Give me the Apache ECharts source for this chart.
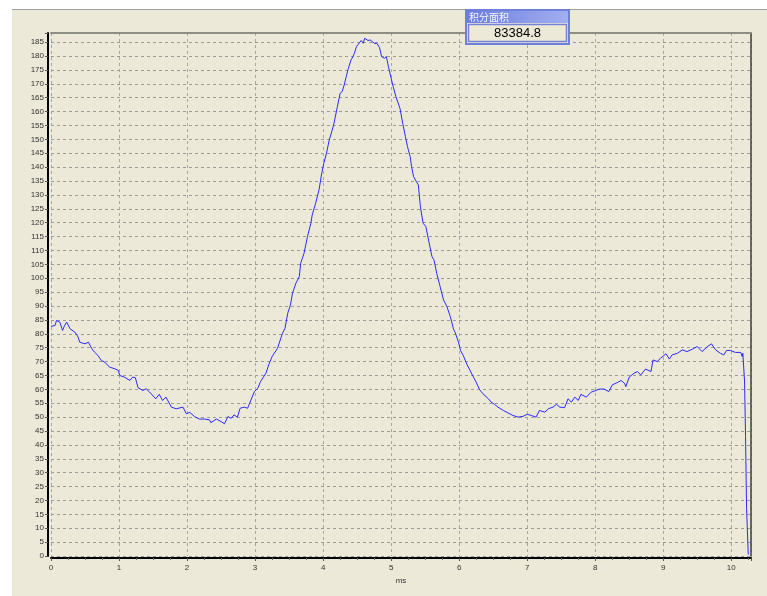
<!DOCTYPE html>
<html>
<head>
<meta charset="utf-8">
<script src="https://cdn.jsdelivr.net/npm/echarts@6/dist/echarts.min.js"></script>
<style>
html,body{margin:0;padding:0;background:#fff;}
#chart{width:767px;height:596px;}
</style>
</head>
<body>
<div id="chart"></div>
<script>
// ---- data ----
const timeMs = [
0,0.06,0.08,0.1,0.13,0.17,0.2,0.23,0.28,0.35,0.4,0.42,0.5,0.55,0.6,0.64,0.69,0.74,0.79,0.86,
0.94,0.99,1.01,1.08,1.16,1.2,1.24,1.28,1.35,1.4,1.45,1.54,1.59,1.64,1.69,1.77,1.84,1.94,1.99,2.04,
2.11,2.18,2.26,2.33,2.35,2.43,2.5,2.55,2.6,2.65,2.69,2.74,2.78,2.84,2.89,2.94,2.99,3.04,3.08,3.16,
3.2,3.25,3.33,3.4,3.44,3.48,3.52,3.55,3.6,3.65,3.67,3.72,3.77,3.82,3.84,3.89,3.94,3.98,4.01,4.05,
4.09,4.13,4.16,4.21,4.25,4.28,4.31,4.34,4.37,4.41,4.44,4.46,4.49,4.51,4.56,4.59,4.61,4.63,4.66,4.69,
4.71,4.76,4.79,4.83,4.86,4.9,4.93,4.96,5.0,5.03,5.07,5.13,5.17,5.21,5.24,5.28,5.3,5.33,5.37,5.4,
5.43,5.47,5.51,5.55,5.6,5.63,5.67,5.72,5.77,5.82,5.87,5.92,5.94,5.99,6.02,6.06,6.11,6.16,6.21,6.25,
6.3,6.35,6.43,6.47,6.52,6.57,6.65,6.72,6.79,6.87,6.94,7.0,7.06,7.13,7.18,7.26,7.31,7.38,7.43,7.48,
7.55,7.6,7.65,7.7,7.75,7.79,7.87,7.94,8.01,8.06,8.13,8.2,8.25,8.33,8.38,8.43,8.45,8.5,8.57,8.62,
8.67,8.74,8.82,8.85,8.91,8.96,9.04,9.09,9.13,9.21,9.28,9.35,9.43,9.5,9.57,9.65,9.71,9.77,9.84,9.89,
9.93,9.99,10.06,10.14,10.16,10.17,10.19,10.195,10.21,10.225,10.25
];
const signal = [
82.7,83,84.8,85.2,84.2,81.2,83,84.2,81.8,80.6,78.8,77,76.4,77,74.6,73.4,72.2,70.4,69.8,68,
67.4,66.8,65,64.4,63.2,64.4,64.2,60.6,59.6,60.2,59,56.6,58.2,56,57.2,53.6,53,53.6,51.2,51.7,
50.2,49.3,49.3,49,48,49.3,48.4,47.6,50.2,49.6,50.8,50,53.2,53.6,53.2,56.2,59.2,60.4,62.8,65.8,
68.8,71.8,74.8,80,82,87.4,90.4,94.6,98.2,100.6,105.4,109,115,119.8,122.8,127,131.8,137.8,141.4,145,
149.8,153,155.8,161.8,166.6,167.2,169.6,172.6,175.5,178.6,179.8,181,183.4,184,185.6,184.6,186.4,186.4,185.6,185.8,
185.6,184.5,184.6,183,179.8,179.2,179.8,176.2,172,169,165.4,161.2,155.8,151,147.4,143.8,140.2,136.6,134.8,133.6,
125.8,119.8,118.6,113.8,107.8,106.6,101.8,97,92.2,89.8,86.2,81.4,80.6,77,74,72.2,69.2,66.8,64.4,62.6,
59.9,58.4,56.6,55.4,54.6,53.6,52.4,51.5,50.6,50,50.3,51,50.6,50,52.4,51.8,53,53.6,54.6,53.6,
53.4,56.6,55.4,57.2,56,58.2,57.2,59,59.6,60.1,60.1,59.2,61.6,62.5,63.2,62.2,61,64.4,65.8,66.4,
65.2,67.3,66.4,70.6,70,71.2,72.8,70.9,72.4,73,74.2,73.6,74.5,75.4,73.6,75.4,76.4,74.2,73,72.4,
74,74,73.3,73.3,71.8,73,73,63,43,17,0.5
];
const xRange = [0, 10.29];
const yRange = [0, 188.3];
const xStep = 1;
const yStep = 5;
const xName = 'ms';
const boxTitle = '积分面积';
const boxValue = '83384.8';

const chart = echarts.init(document.getElementById('chart'), null, {renderer: 'canvas'});
const pts = timeMs.map((t, i) => [t, signal[i]]);
const labelFont = 'Liberation Sans';

const option = {
  backgroundColor: '#ffffff',
  animation: false,
  grid: {left: 51, right: 16, top: 33, bottom: 40, containLabel: false},
  xAxis: [{
    type: 'value', min: xRange[0], max: xRange[1], interval: xStep,
    offset: 2,
    name: xName, nameLocation: 'middle', nameGap: 19,
    nameTextStyle: {fontSize: 8, color: '#333', fontFamily: labelFont},
    axisLine: {show: true, onZero: false, lineStyle: {color: '#000', width: 2}},
    axisTick: {show: true, length: 3, lineStyle: {color: '#555'}},
    minorTick: {show: true, splitNumber: 4, length: 2, lineStyle: {color: '#666'}},
    axisLabel: {fontSize: 8, color: '#333', fontFamily: labelFont, margin: 6,
      formatter: v => (Math.abs(v - Math.round(v)) < 1e-6 ? String(Math.round(v)) : '')},
    splitLine: {show: true, lineStyle: {color: '#a8a8a0', type: [3, 3], width: 1}}
  }, {
    type: 'value', position: 'top', min: xRange[0], max: xRange[1],
    axisLine: {show: true, onZero: false, lineStyle: {color: '#8d8d85', width: 2}},
    axisTick: {show: false}, axisLabel: {show: false}, splitLine: {show: false}
  }],
  yAxis: [{
    type: 'value', min: yRange[0], max: yRange[1], interval: yStep,
    offset: 3,
    axisLine: {show: true, onZero: false, lineStyle: {color: '#000', width: 2}},
    axisTick: {show: true, length: 3, lineStyle: {color: '#555'}},
    axisLabel: {fontSize: 8, color: '#333', fontFamily: labelFont, margin: 4,
      formatter: v => (Math.abs(v - Math.round(v / yStep) * yStep) < 1e-6 ? String(Math.round(v)) : '')},
    splitLine: {show: true, lineStyle: {color: '#9c9c96', type: [3, 3], width: 1}}
  }, {
    type: 'value', position: 'right', min: yRange[0], max: yRange[1],
    axisLine: {show: true, onZero: false, lineStyle: {color: '#404040', width: 1.5}},
    axisTick: {show: false}, axisLabel: {show: false}, splitLine: {show: false}
  }],
  series: [{
    type: 'line', data: pts, xAxisIndex: 0, yAxisIndex: 0,
    showSymbol: false, symbol: 'none', smooth: false,
    lineStyle: {color: '#2a2aff', width: 1},
    z: 5
  }],
  graphic: [
    {type: 'rect', z: -100, silent: true, shape: {x: 12, y: 10, width: 755, height: 586}, style: {fill: '#ECE9D8'}},
    {type: 'line', z: -99, silent: true, shape: {x1: 12, y1: 9.5, x2: 767, y2: 9.5}, style: {stroke: '#a0a0a0', lineWidth: 1}},
    {type: 'rect', z: 100, silent: true, shape: {x: 466, y: 10, width: 103, height: 34}, style: {fill: '#ECE9D8', stroke: '#6f80dc', lineWidth: 2}},
    {type: 'rect', z: 101, silent: true, shape: {x: 467, y: 11, width: 101, height: 12},
      style: {fill: new echarts.graphic.LinearGradient(0, 0, 1, 0, [{offset: 0, color: '#6c7de0'}, {offset: 1, color: '#a3aff0'}])}},
    {type: 'text', z: 102, silent: true, x: 469, y: 17, style: {text: boxTitle, fill: '#f4f6ff', fontSize: 10, fontFamily: 'Noto Sans CJK SC', verticalAlign: 'middle'}},
    {type: 'rect', z: 101, silent: true, shape: {x: 468.5, y: 24.5, width: 98, height: 17}, style: {fill: '#ECE9D8', stroke: '#7383d8', lineWidth: 1.5}},
    {type: 'text', z: 102, silent: true, x: 517.5, y: 33.5, style: {text: boxValue, fill: '#000', fontSize: 13, fontFamily: labelFont, align: 'center', verticalAlign: 'middle'}}
  ]
};
chart.setOption(option);
</script>
</body>
</html>
